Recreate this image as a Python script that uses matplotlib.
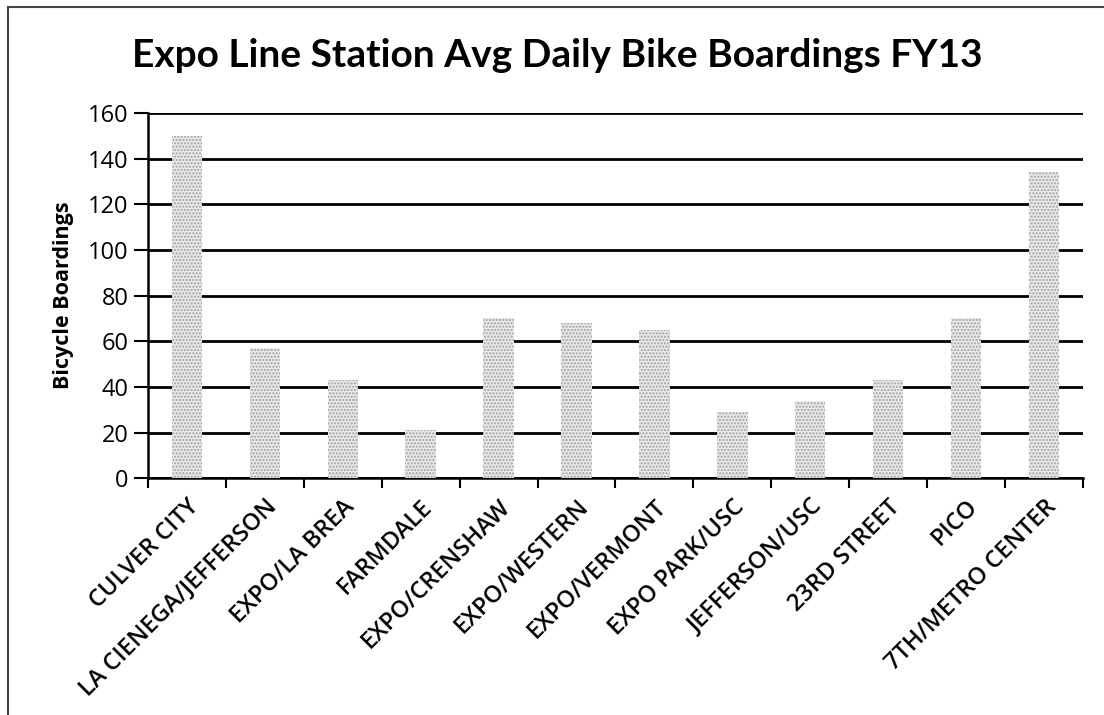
"""Expo Line station average daily bike boardings, FY13."""
import matplotlib.pyplot as plt
import numpy as np
from matplotlib.lines import Line2D
from matplotlib.ticker import FixedLocator, MultipleLocator

stations = ["CULVER CITY", "LA CIENEGA/JEFFERSON", "EXPO/LA BREA", "FARMDALE",
            "EXPO/CRENSHAW", "EXPO/WESTERN", "EXPO/VERMONT", "EXPO PARK/USC",
            "JEFFERSON/USC", "23RD STREET", "PICO", "7TH/METRO CENTER"]
boardings = [150, 57, 43, 21, 70, 68, 65, 29, 34, 43, 70, 134]

plt.rcParams['font.family'] = ['Open Sans', 'DejaVu Sans']

fig = plt.figure(figsize=(11.04, 7.15), dpi=100)
ax = fig.add_axes([0.134, 0.331, 0.847, 0.511])

x = np.arange(len(stations))
ax.bar(x, boardings, width=0.39, color='#e8e8e8', edgecolor='#a0a0a0',
       hatch='.....', linewidth=0, zorder=3)

ax.set_xlim(-0.5, len(stations) - 0.5)
ax.set_ylim(0, 160)
ax.yaxis.set_major_locator(MultipleLocator(20))
ax.grid(axis='y', color='black', lw=2, zorder=0)
ax.set_axisbelow(True)

ax.set_xticks(x)
ax.set_xticklabels(stations, rotation=45, ha='right', rotation_mode='anchor',
                   fontsize=17, fontweight='semibold')
ax.xaxis.set_minor_locator(FixedLocator(np.arange(-0.5, len(stations), 1)))
ax.tick_params(axis='x', which='major', length=0, pad=12)
ax.tick_params(axis='x', which='minor', length=7, width=1.5, direction='out')
ax.tick_params(axis='y', length=10, width=1.5, labelsize=17, pad=4)

for side in ('top', 'right'):
    ax.spines[side].set_visible(False)
for side in ('left', 'bottom'):
    ax.spines[side].set_linewidth(1.8)

ax.set_ylabel("Bicycle Boardings", fontsize=15.5, fontweight='bold', labelpad=10)
fig.suptitle("Expo Line Station Avg Daily Bike Boardings FY13", x=0.505, y=0.947,
             fontsize=28, fontweight='bold', family=['Lato', 'DejaVu Sans'])

# page frame from the scan
fig.add_artist(Line2D([0.007, 0.007], [0, 0.99], color='#444444', lw=1.5))
fig.add_artist(Line2D([0.007, 1.0], [0.99, 0.99], color='#444444', lw=1.5))

fig.savefig("out.png", dpi=100)
